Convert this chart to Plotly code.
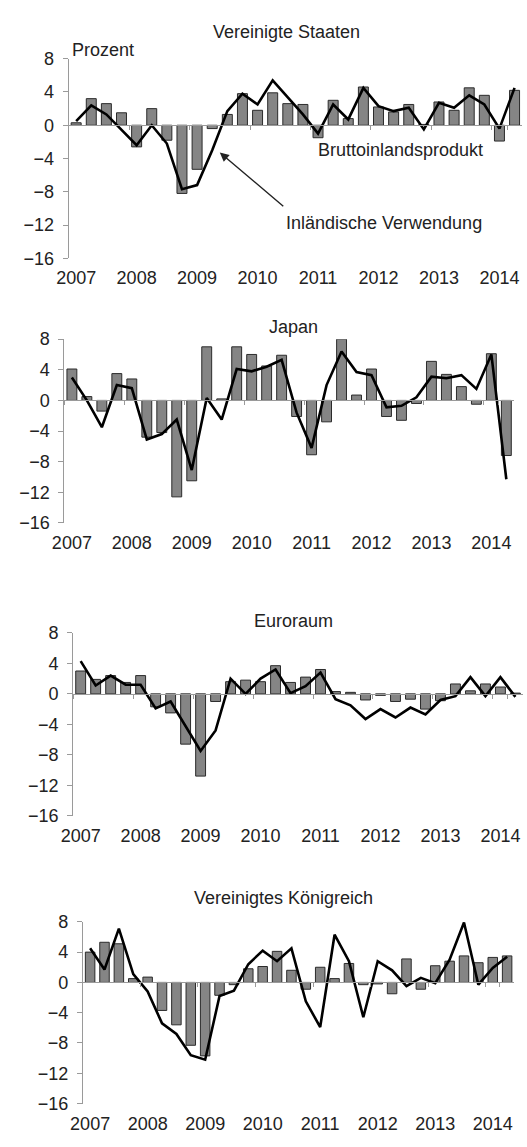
import plotly.graph_objects as go

# quarterly growth, annualised, percent; bars = GDP, line = domestic demand
years = ["2007", "2008", "2009", "2010", "2011", "2012", "2013", "2014"]
quarters = [f"{y}Q{q}" for y in years for q in (1, 2, 3, 4)][:30]  # 2007Q1 .. 2014Q2

us_bip = [0.3, 3.2, 2.6, 1.5, -2.6, 2.0, -1.8, -8.2, -5.3, -0.4,
          1.3, 3.8, 1.8, 3.9, 2.6, 2.5, -1.5, 3.0, 0.8, 4.6,
          2.2, 1.6, 2.5, 0.1, 2.8, 1.8, 4.5, 3.6, -1.9, 4.2]
us_dom = [0.5, 2.4, 1.3, -0.5, -2.4, 0.0, -2.2, -7.7, -7.2, -3.0,
          1.7, 3.8, 2.5, 5.4, 3.3, 1.3, -1.0, 2.5, 0.7, 4.5,
          2.3, 1.7, 2.1, -0.5, 2.7, 2.1, 3.6, 2.5, -0.4, 4.5]

jp_bip = [4.1, 0.5, -1.4, 3.5, 2.8, -4.8, -4.2, -12.6, -10.5, 7.0,
          0.2, 7.0, 6.0, 4.5, 5.9, -2.1, -7.1, -2.8, 8.0, 0.7,
          4.1, -2.1, -2.6, -0.4, 5.1, 3.4, 1.8, -0.5, 6.1, -7.2]
jp_dom = [3.0, 0.0, -3.5, 2.0, 1.6, -5.1, -4.4, -2.5, -9.1, 0.3,
          -2.5, 4.1, 3.8, 4.4, 5.3, -1.6, -6.2, 2.0, 6.4, 3.7,
          3.3, -0.9, -0.7, 0.4, 3.1, 2.9, 3.3, 1.5, 6.0, -10.3]

ea_bip = [3.0, 1.9, 2.4, 1.5, 2.4, -1.7, -2.5, -6.6, -10.8, -1.0,
          1.6, 1.8, 1.6, 3.7, 1.5, 2.2, 3.2, 0.3, 0.2, -0.8,
          -0.2, -1.0, -0.7, -2.0, -0.9, 1.3, 0.4, 1.3, 0.9, 0.1]
ea_dom = [4.3, 1.1, 2.4, 1.2, 1.2, -1.9, -1.0, -4.3, -7.5, -4.8,
          2.0, 0.0, 2.0, 3.2, 0.1, 1.0, 2.8, -0.7, -1.5, -3.3,
          -2.0, -3.1, -1.8, -2.7, -0.8, -0.3, 2.2, -0.3, 2.2, -0.4]

uk_bip = [4.0, 5.3, 5.1, 0.5, 0.7, -3.7, -5.6, -8.3, -9.7, -1.7,
          -0.3, 1.8, 2.1, 4.1, 1.6, -0.9, 2.0, 0.5, 2.5, -0.3,
          -0.2, -1.5, 3.1, -0.9, 2.2, 2.8, 3.5, 2.6, 3.3, 3.5]
uk_dom = [4.5, 1.7, 7.1, 1.1, -1.2, -5.4, -6.8, -9.6, -10.2, -1.8,
          -1.1, 2.4, 4.2, 2.8, 4.5, -2.5, -5.9, 6.3, 2.8, -4.6,
          2.8, 1.6, -0.5, 0.6, -0.1, 3.0, 7.9, -0.3, 1.9, 3.4]

titles = ["Vereinigte Staaten", "Japan", "Euroraum", "Vereinigtes Königreich"]
bip_series = [us_bip, jp_bip, ea_bip, uk_bip]
dom_series = [us_dom, jp_dom, ea_dom, uk_dom]
y_ticks = [-16, -12, -8, -4, 0, 4, 8]

W, H = 527, 1147
# plot boxes in pixels: (left, right, top, bottom) and title centre
boxes = [(57, 522, 49.6, 252.7), (52.7, 513.5, 335, 522),
         (61.7, 522.8, 634, 820), (71.7, 514, 928, 1113)]
title_pos = [(280, 22), (288, 323), (288, 622), (277.5, 904)]

FONT = "Liberation Sans, Arial, sans-serif"
FS = 18
TXT = "#222222"
AXIS = "#9a9a9a"

fig = go.Figure()
annotations = []
year_q1 = [f"{y}Q1" for y in years]

for i in range(4):
    n = i + 1
    left, right, top, bottom = boxes[i]
    xdom = [left / W, right / W]
    ydom = [1 - bottom / H, 1 - top / H]
    xa, ya, xl = f"x{n}", f"y{n}", f"x{n + 4}"

    fig.add_trace(go.Bar(x=quarters, y=bip_series[i], xaxis=xa, yaxis=ya,
                         marker=dict(color="rgb(133,133,133)", line=dict(color="#2b2b2b", width=1)),
                         width=0.66, showlegend=False, hoverinfo="skip"))
    # line sits on an overlay axis that is drawn along the zero line
    fig.add_trace(go.Scatter(x=quarters, y=dom_series[i], xaxis=xl, yaxis=ya, mode="lines",
                             line=dict(color="black", width=2.6), showlegend=False, hoverinfo="skip"))

    zero_pos = ydom[0] + (0 - y_ticks[0]) / (y_ticks[-1] - y_ticks[0]) * (ydom[1] - ydom[0])
    fig.layout[f"xaxis{n}"] = dict(domain=xdom, anchor=ya, type="category", categoryarray=quarters,
                                   range=[-0.5, len(quarters) - 0.5],
                                   tickvals=year_q1, ticktext=years, ticks="", showline=False,
                                   showgrid=False, zeroline=False, ticklabelstandoff=7,
                                   tickfont=dict(size=FS, color=TXT, family=FONT))
    fig.layout[f"xaxis{n + 4}"] = dict(domain=xdom, overlaying=xa, anchor="free", position=zero_pos,
                                       type="category", categoryarray=quarters,
                                       range=[-0.5, len(quarters) - 0.5],
                                       tickvals=year_q1, tickson="boundaries", ticks="outside",
                                       ticklen=4, tickcolor=AXIS, showticklabels=False,
                                       showline=True, linecolor=AXIS, linewidth=1, showgrid=False)
    fig.layout[f"yaxis{n}"] = dict(domain=ydom, anchor=xa, range=[y_ticks[0], y_ticks[-1]],
                                   tickvals=y_ticks, ticks="outside", ticklen=5, tickcolor=AXIS,
                                   showline=True, linecolor=AXIS, linewidth=1, showgrid=False,
                                   zeroline=False, ticklabelstandoff=5,
                                   tickfont=dict(size=FS, color=TXT, family=FONT))

    tx, ty = title_pos[i]
    annotations.append(dict(text=titles[i], x=tx / W, y=1 - ty / H, xref="paper", yref="paper",
                            xanchor="center", yanchor="middle", showarrow=False,
                            font=dict(size=FS, color=TXT, family=FONT)))

# labels in the first panel
annotations += [
    dict(text="Prozent", x=58 / W, y=1 - 41 / H, xref="paper", yref="paper",
         xanchor="left", yanchor="middle", showarrow=False, font=dict(size=FS, color=TXT, family=FONT)),
    dict(text="Bruttoinlandsprodukt", x=397.5 / W, y=1 - 142 / H, xref="paper", yref="paper",
         xanchor="center", yanchor="middle", showarrow=False, font=dict(size=FS, color=TXT, family=FONT)),
    dict(text="Inländische Verwendung", x=380.5 / W, y=1 - 217 / H, xref="paper", yref="paper",
         xanchor="center", yanchor="middle", showarrow=False, font=dict(size=FS, color=TXT, family=FONT)),
    # arrow from the label up to the line
    dict(text="", x=212 / W, y=1 - 145 / H, xref="paper", yref="paper",
         ax=65, ay=55, axref="pixel", ayref="pixel",
         showarrow=True, arrowhead=2, arrowsize=1.3, arrowwidth=1.4, arrowcolor="#222222", standoff=0),
]

fig.update_layout(width=W, height=H, margin=dict(l=0, r=0, t=0, b=0),
                  paper_bgcolor="white", plot_bgcolor="white", bargap=0.34,
                  annotations=annotations, font=dict(family=FONT, color=TXT), hovermode=False)

# drop the default body margin so the figure fills the window exactly
fig.write_html("out.html", config={"displayModeBar": False, "staticPlot": True},
               post_script="document.body.style.margin='0';document.body.style.overflow='hidden';")
